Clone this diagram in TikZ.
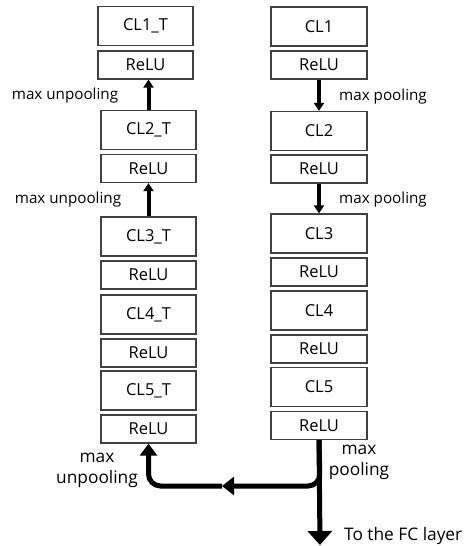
\documentclass[tikz,border=0pt]{standalone}
\usepackage{fontspec}
\setmainfont{Open Sans}
\usetikzlibrary{arrows.meta}
\definecolor{boxline}{HTML}{404040}
\tikzset{
  layer/.style={draw=boxline, line width=1.3pt, minimum width=95pt, minimum height=39pt, inner sep=0pt, font=\fontsize{16.5}{19}\selectfont},
  relu/.style={layer, minimum height=28pt},
  lbl/.style={font=\fontsize{15.2}{21}\selectfont, inner sep=0pt, align=center},
  biglbl/.style={lbl, font=\fontsize{17.3}{21}\selectfont},
  thinarrow/.style={line width=4pt, -{Triangle[width=10pt,length=8pt]}},
  bigarrow/.style={line width=5pt, -{Triangle[width=24pt,length=14pt]}},
}
\begin{document}
\begin{tikzpicture}[x=1pt,y=-1pt]
\useasboundingbox (0,0) rectangle (465,546);
% left column
\node[layer] (l1) at (145.5,26) {CL1\_T};
\node[relu] (lr1) at (145.5,65) {ReLU};
\node[layer] (l2) at (148.5,130) {CL2\_T};
\node[relu] (lr2) at (148.5,168.5) {ReLU};
\node[layer] (l3) at (148.5,236.5) {CL3\_T};
\node[relu] (lr3) at (148.5,275) {ReLU};
\node[layer] (l4) at (148.5,314.5) {CL4\_T};
\node[relu] (lr4) at (148.5,353) {ReLU};
\node[layer] (l5) at (148.5,390.5) {CL5\_T};
\node[relu] (lr5) at (148.5,429) {ReLU};
% right column
\node[layer, minimum width=96pt] (r1) at (319,26.5) {CL1};
\node[relu, minimum width=96pt] (rr1) at (319,65) {ReLU};
\node[layer, minimum width=96pt] (r2) at (319,131) {CL2};
\node[relu, minimum width=96pt] (rr2) at (319,169) {ReLU};
\node[layer, minimum width=96pt] (r3) at (319,233.5) {CL3};
\node[relu, minimum width=96pt] (rr3) at (319,272) {ReLU};
\node[layer, minimum width=96pt] (r4) at (319,310.5) {CL4};
\node[relu, minimum width=96pt] (rr4) at (319,349) {ReLU};
\node[layer, minimum width=96pt] (r5) at (319,387) {CL5};
\node[relu, minimum width=96pt] (rr5) at (319,425.5) {ReLU};
% labels
\node[lbl] (t1) at (65,96) {max unpooling};
\node[lbl] (t2) at (68,200) {max unpooling};
\node[lbl] (t3) at (383,97) {max pooling};
\node[lbl] (t4) at (383,200) {max pooling};
\node[biglbl] (t5) at (359,462) {max\\pooling};
\node[biglbl] (t6) at (97,470) {max\\unpooling};
\node[biglbl, anchor=west] (t7) at (344,536) {To the FC layer};
% arrows
\draw[thinarrow] (l2.north) -- (l2.north |- lr1.south);
\draw[thinarrow] (l3.north) -- (l3.north |- lr2.south);
\draw[thinarrow] (rr1.south) -- (rr1.south |- r2.north);
\draw[thinarrow] (rr2.south) -- (rr2.south |- r3.north);
\coordinate (corner) at (320,486);
\coordinate (mid) at (222,486);
\coordinate (fc) at (320,545);
\draw[bigarrow] (rr5.south) -- (fc);
\draw[line width=5pt, rounded corners=12pt, -{Triangle[width=18pt,length=12pt]}] (rr5.south) -- (corner) -- (mid);
\draw[line width=5pt, rounded corners=12pt, -{Triangle[width=17pt,length=12pt]}] (mid) -- (lr5.south |- corner) -- (lr5.south);
\end{tikzpicture}
\end{document}
